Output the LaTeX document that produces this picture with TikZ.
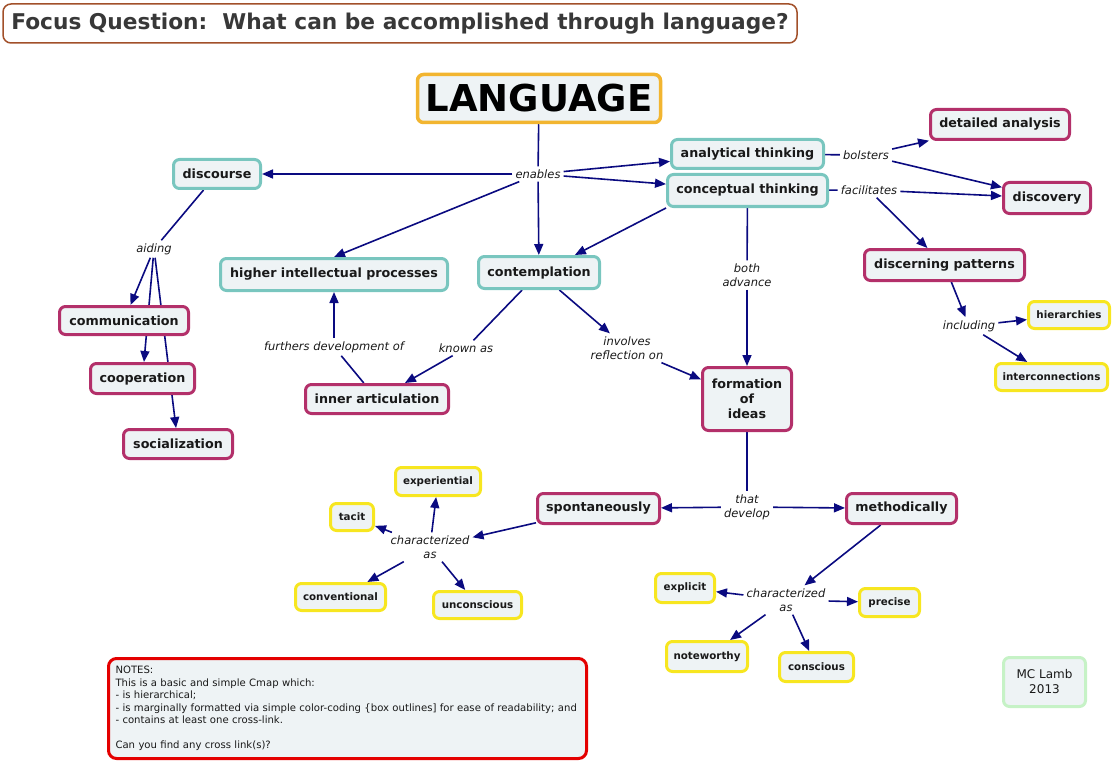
\documentclass[tikz,border=0pt]{standalone}
\usepackage{fontspec}
\setmainfont{DejaVu Sans}
\usetikzlibrary{arrows.meta,backgrounds}
\definecolor{cmapfill}{HTML}{EEF3F5}
\definecolor{cmapteal}{HTML}{79C6BF}
\definecolor{cmapplum}{HTML}{B3306A}
\definecolor{cmapgold}{HTML}{F2B530}
\definecolor{cmapyellow}{HTML}{F7E620}
\definecolor{cmapred}{HTML}{E40000}
\definecolor{cmapbrown}{HTML}{A2502A}
\definecolor{cmapgreen}{HTML}{C6F2C6}
\definecolor{cmapnavy}{HTML}{0A0A80}
\tikzset{
  concept/.style={draw, rounded corners=6pt, line width=3pt, fill=cmapfill, text=black!90,
    font=\bfseries\fontsize{12.7}{15}\selectfont, inner sep=2pt},
  tealbox/.style={concept, draw=cmapteal},
  plumbox/.style={concept, draw=cmapplum},
  leafbox/.style={concept, draw=cmapyellow, font=\bfseries\fontsize{10.3}{12}\selectfont},
  sz/.style 2 args={minimum width=#1pt, minimum height=#2pt},
  phrase/.style={font=\itshape\fontsize{11.5}{14}\selectfont, align=center, inner sep=3pt, text=black!90},
  link/.style={draw=cmapnavy, line width=1.6pt},
  linkto/.style={link, -{Triangle[length=11pt,width=9pt]}},
}
\begin{document}
\begin{tikzpicture}[x=1pt,y=-1pt]
  \useasboundingbox (0,0) rectangle (1113,762);
  % focus question
  \node[draw=cmapbrown, line width=1.5pt, rounded corners=8pt, fill=white, sz={794}{39},
    font=\bfseries\fontsize{21.7}{26}\selectfont, text=black!78] (focus) at (400,23.5)
    {Focus Question:\ \ What can be accomplished through language?};
  % root
  \node[concept, draw=cmapgold, line width=3.5pt, sz={243}{48}, font=\bfseries\fontsize{37}{40}\selectfont,
    text=black] (language) at (539,98.5) {LANGUAGE};
  % teal concepts
  \node[tealbox, sz={87}{29}] (discourse) at (217,174) {discourse};
  \node[tealbox, sz={152}{29}] (analytical) at (747.5,154) {analytical thinking};
  \node[tealbox, sz={160}{32}] (conceptual) at (747.5,190.5) {conceptual thinking};
  \node[tealbox, sz={227}{32}] (higher) at (334,274.5) {higher intellectual processes};
  \node[tealbox, sz={121}{32}] (contemplation) at (539,272.5) {contemplation};
  % plum concepts
  \node[plumbox, sz={129}{28}] (communication) at (124,320.5) {communication};
  \node[plumbox, sz={104}{30}] (cooperation) at (142.5,378.5) {cooperation};
  \node[plumbox, sz={109}{29}] (socialization) at (178,444) {socialization};
  \node[plumbox, sz={143}{29}] (inner) at (377,399) {inner articulation};
  \node[plumbox, sz={89}{63}, align=center] (formation) at (747,399) {formation\\of\\ideas};
  \node[plumbox, sz={139}{30}] (detailed) at (1000,124.5) {detailed analysis};
  \node[plumbox, sz={87}{31}] (discovery) at (1047,198) {discovery};
  \node[plumbox, sz={160}{31}] (discerning) at (944.5,265) {discerning patterns};
  \node[plumbox, sz={122}{30}] (spontaneously) at (598.5,508.5) {spontaneously};
  \node[plumbox, sz={110}{30}] (methodically) at (901.5,508.5) {methodically};
  % yellow leaves
  \node[leafbox, sz={81}{27}] (hierarchies) at (1069,315) {hierarchies};
  \node[leafbox, sz={112}{27}] (interconnections) at (1051.5,377) {interconnections};
  \node[leafbox, sz={85}{28}] (experiential) at (438,481.5) {experiential};
  \node[leafbox, sz={43}{27}] (tacit) at (352,517) {tacit};
  \node[leafbox, sz={90}{27}] (conventional) at (340.5,597) {conventional};
  \node[leafbox, sz={88}{27}] (unconscious) at (477.5,605) {unconscious};
  \node[leafbox, sz={59}{29}] (explicit) at (685,588) {explicit};
  \node[leafbox, sz={60}{28}] (precise) at (889.5,602.5) {precise};
  \node[leafbox, sz={81}{30}] (noteworthy) at (707,656.5) {noteworthy};
  \node[leafbox, sz={74}{29}] (conscious) at (816.5,667) {conscious};
  % linking phrases
  \node[phrase] (enables) at (538,174) {enables};
  \node[phrase] (aiding) at (154,249) {aiding};
  \node[phrase] (bolsters) at (866,155) {bolsters};
  \node[phrase] (facilitates) at (869,190) {facilitates};
  \node[phrase] (advance) at (747,275) {both\\advance};
  \node[phrase] (furthers) at (334,347) {furthers development of};
  \node[phrase] (knownas) at (466,348) {known as};
  \node[phrase] (involves) at (627,348) {involves\\reflection on};
  \node[phrase] (including) at (969,326) {including};
  \node[phrase] (develop) at (747,507) {that\\develop};
  \node[phrase] (charleft) at (430,547) {characterized\\as};
  \node[phrase] (charright) at (786,600) {characterized\\as};
  % notes and credit
  \node[draw=cmapred, line width=3pt, rounded corners=8pt, fill=cmapfill, sz={478}{100},
    text width=464pt, align=left, font=\fontsize{10.1}{12.5}\selectfont, text=black!90] (notes) at (347.5,708.5)
    {NOTES:\\
     This is a basic and simple Cmap which:\\
     - is hierarchical;\\
     - is marginally formatted via simple color-coding \{box outlines] for ease of readability; and\\
     - contains at least one cross-link.\\[12.5pt]
     Can you find any cross link(s)?};
  \node[concept, draw=cmapgreen, sz={82}{49}, align=center, font=\fontsize{12}{15}\selectfont] (credit)
    at (1044.5,682) {MC Lamb\\2013};
  % connectors
  \begin{scope}[on background layer]
    \draw[link] (language) -- (enables);
    \foreach \t in {discourse, analytical, conceptual, contemplation}
      \draw[linkto] (enables) -- (\t);
    \draw[linkto] (enables) -- (higher.north);
    \draw[link] (discourse) -- (aiding);
    \foreach \t in {communication, cooperation, socialization}
      \draw[linkto] (aiding) -- (\t);
    \draw[link] (analytical) -- (bolsters);
    \draw[linkto] (bolsters) -- (detailed);
    \draw[linkto] (bolsters) -- (discovery);
    \draw[link] (conceptual) -- (facilitates);
    \draw[linkto] (facilitates) -- (discovery);
    \draw[linkto] (facilitates) -- (discerning);
    \draw[linkto] (discerning) -- (including);
    \draw[linkto] (including) -- (hierarchies);
    \draw[linkto] (including) -- (interconnections);
    \draw[linkto] (conceptual.south west) -- (contemplation.26);
    \draw[link] (conceptual) -- (advance);
    \draw[linkto] (advance) -- (formation);
    \draw[link] (inner) -- (furthers);
    \draw[linkto] (furthers) -- (higher);
    \draw[link] (contemplation) -- (knownas);
    \draw[linkto] (knownas) -- (inner);
    \draw[linkto] (contemplation) -- (involves);
    \draw[linkto] (involves) -- (formation);
    \draw[link] (formation) -- (develop);
    \draw[linkto] (develop) -- (spontaneously);
    \draw[linkto] (develop) -- (methodically);
    \draw[linkto] (spontaneously) -- (charleft);
    \foreach \t in {experiential, tacit, conventional, unconscious}
      \draw[linkto] (charleft) -- (\t);
    \draw[linkto] (methodically) -- (charright);
    \foreach \t in {explicit, precise, noteworthy, conscious}
      \draw[linkto] (charright) -- (\t);
  \end{scope}
\end{tikzpicture}
\end{document}
